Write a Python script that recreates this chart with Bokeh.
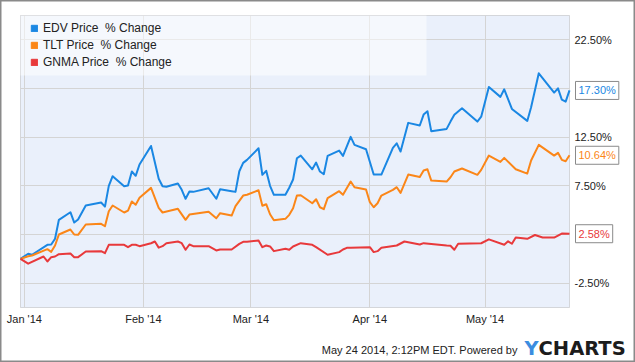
import math
import pandas as pd
from bokeh.plotting import figure
from bokeh.models import (ColumnDataSource, FixedTicker, PrintfTickFormatter, MonthsTicker,
                          DatetimeTickFormatter, Label, Legend, LegendItem, BoxAnnotation, Range1d)
from bokeh.embed import file_html
from bokeh.resources import INLINE

# ---------------- data ----------------
edv_dates = ["2013-12-31", "2014-01-02", "2014-01-03", "2014-01-07", "2014-01-08", "2014-01-09",
             "2014-01-10", "2014-01-13", "2014-01-14", "2014-01-15", "2014-01-17", "2014-01-21",
             "2014-01-22", "2014-01-23", "2014-01-24", "2014-01-27", "2014-01-28", "2014-01-29",
             "2014-01-30", "2014-01-31", "2014-02-03", "2014-02-05", "2014-02-06", "2014-02-07",
             "2014-02-10", "2014-02-11", "2014-02-12", "2014-02-13", "2014-02-14", "2014-02-18",
             "2014-02-20", "2014-02-21", "2014-02-24", "2014-02-25", "2014-02-26", "2014-02-27",
             "2014-02-28", "2014-03-03", "2014-03-04", "2014-03-05", "2014-03-06", "2014-03-07",
             "2014-03-10", "2014-03-11", "2014-03-12", "2014-03-13", "2014-03-14", "2014-03-17",
             "2014-03-18", "2014-03-19", "2014-03-20", "2014-03-21", "2014-03-24", "2014-03-25",
             "2014-03-27", "2014-03-28", "2014-03-31", "2014-04-02", "2014-04-04", "2014-04-07",
             "2014-04-08", "2014-04-09", "2014-04-11", "2014-04-14", "2014-04-15", "2014-04-16",
             "2014-04-17", "2014-04-21", "2014-04-22", "2014-04-23", "2014-04-25", "2014-04-29",
             "2014-04-30", "2014-05-02", "2014-05-05", "2014-05-06", "2014-05-08", "2014-05-12",
             "2014-05-13", "2014-05-15", "2014-05-19", "2014-05-20", "2014-05-21", "2014-05-22",
             "2014-05-23"]
edv_values = [0.00, 0.52, 0.42, 1.44, 1.47, 2.06, 4.01, 4.79, 3.73, 4.04,
              5.48, 5.79, 5.37, 7.50, 8.49, 7.46, 7.53, 8.97, 8.53, 9.69,
              11.60, 8.22, 7.46, 7.40, 7.74, 7.09, 6.17, 6.91, 6.88, 7.25,
              6.17, 7.15, 6.95, 6.88, 9.00, 9.86, 10.17,
              11.36, 8.63, 9.04, 7.50, 6.58, 6.58, 7.30, 8.15, 10.33, 10.61,
              9.20, 9.89, 8.97, 8.69, 10.58, 11.12, 10.58, 12.53, 11.71, 11.26,
              8.66, 8.66, 11.40, 11.87, 11.02, 13.97, 13.70, 14.82, 15.16, 13.10,
              13.35, 14.10, 14.80, 15.47, 14.10, 14.61,
              17.66, 16.64, 17.42, 15.40, 14.17, 15.57, 19.06, 17.08, 17.52, 16.36,
              16.15, 17.30]

tlt_dates = ["2013-12-31", "2014-01-02", "2014-01-03", "2014-01-07", "2014-01-08", "2014-01-09",
             "2014-01-10", "2014-01-13", "2014-01-14", "2014-01-15", "2014-01-17", "2014-01-21",
             "2014-01-22", "2014-01-23", "2014-01-24", "2014-01-27", "2014-01-28", "2014-01-29",
             "2014-01-30", "2014-01-31", "2014-02-03", "2014-02-05", "2014-02-06", "2014-02-10",
             "2014-02-12", "2014-02-13", "2014-02-18", "2014-02-20", "2014-02-21", "2014-02-24",
             "2014-02-25", "2014-02-27", "2014-02-28", "2014-03-03", "2014-03-04", "2014-03-05",
             "2014-03-06", "2014-03-07", "2014-03-10", "2014-03-11", "2014-03-12", "2014-03-13",
             "2014-03-14", "2014-03-17", "2014-03-18", "2014-03-19", "2014-03-20", "2014-03-21",
             "2014-03-24", "2014-03-25", "2014-03-27", "2014-03-28", "2014-03-31", "2014-04-01",
             "2014-04-02", "2014-04-03", "2014-04-04", "2014-04-07", "2014-04-08", "2014-04-09",
             "2014-04-11", "2014-04-14", "2014-04-15", "2014-04-16", "2014-04-17", "2014-04-21",
             "2014-04-22", "2014-04-23", "2014-04-25", "2014-04-29", "2014-04-30", "2014-05-02",
             "2014-05-05", "2014-05-06", "2014-05-09", "2014-05-12", "2014-05-13", "2014-05-15",
             "2014-05-19", "2014-05-20", "2014-05-21", "2014-05-22", "2014-05-23"]
tlt_values = [0.00, 0.27, 0.34, 0.99, 0.72, 1.37, 2.50, 3.01, 2.50, 2.47,
              3.53, 3.60, 3.35, 4.89, 5.48, 4.76, 4.96, 5.89, 5.55, 6.27,
              7.29, 5.24, 4.76, 5.14, 4.01, 4.55, 4.83, 4.17, 4.69, 4.45, 5.41, 6.50, 6.58,
              7.05, 5.45, 5.61, 4.58, 3.97, 4.11, 4.52, 5.20, 6.50, 6.53,
              5.71, 6.12, 5.30, 5.10, 6.23, 6.95, 6.58, 7.94, 7.36, 7.12,
              5.82, 5.30, 5.71, 6.50, 7.09, 7.36, 6.78, 8.66, 8.40, 9.07, 9.20, 8.04,
              7.94, 8.38, 8.97, 9.28, 8.63, 9.14,
              10.61, 9.96, 10.37, 9.20, 8.76, 10.10, 11.71, 10.61, 10.89, 10.17, 10.03, 10.64]

gnma_dates = ["2013-12-31", "2014-01-02", "2014-01-06", "2014-01-07", "2014-01-08", "2014-01-09",
              "2014-01-10", "2014-01-13", "2014-01-14", "2014-01-15", "2014-01-17", "2014-01-21",
              "2014-01-22", "2014-01-23", "2014-01-27", "2014-01-28", "2014-01-29", "2014-01-30",
              "2014-01-31", "2014-02-03", "2014-02-04", "2014-02-05", "2014-02-06", "2014-02-07",
              "2014-02-10", "2014-02-11", "2014-02-12", "2014-02-13", "2014-02-14", "2014-02-18",
              "2014-02-20", "2014-02-21", "2014-02-24", "2014-02-26", "2014-02-27", "2014-02-28",
              "2014-03-03", "2014-03-04", "2014-03-05", "2014-03-06", "2014-03-07", "2014-03-10",
              "2014-03-11", "2014-03-12", "2014-03-14", "2014-03-17", "2014-03-18", "2014-03-21",
              "2014-03-24", "2014-03-25", "2014-03-26", "2014-03-27", "2014-04-01", "2014-04-02",
              "2014-04-03", "2014-04-04", "2014-04-08", "2014-04-10", "2014-04-14", "2014-04-15",
              "2014-04-21", "2014-04-22", "2014-04-23", "2014-04-24", "2014-04-30", "2014-05-02",
              "2014-05-06", "2014-05-07", "2014-05-08", "2014-05-09", "2014-05-12", "2014-05-14",
              "2014-05-16", "2014-05-19", "2014-05-21", "2014-05-23"]
gnma_values = [0.00, -0.50, 0.24, -0.27, 0.17, 0.24, 0.48, 0.55, 0.17, 0.17,
               0.75, 0.79, 0.58, 1.44, 1.44, 1.20, 1.44, 1.44, 1.30,
               1.60, 1.78, 1.15, 1.30, 1.61, 1.78, 1.61, 0.93, 1.47, 1.30, 1.30,
               0.86, 0.96, 0.96, 1.54, 1.75, 1.75,
               1.88, 1.20, 1.37, 1.27, 0.79, 1.03, 0.93, 1.27, 1.61, 1.44, 1.20,
               0.42, 0.69, 0.96, 1.13, 1.13, 1.20, 0.69, 0.79, 1.13, 1.37, 1.78,
               1.47, 1.61, 1.37, 1.34, 0.93, 1.55, 1.60,
               2.00, 1.45, 1.80, 1.55, 2.20, 2.06, 2.45, 2.19, 2.19, 2.60, 2.58]

series_names = ["EDV Price  % Change", "TLT Price  % Change", "GNMA Price  % Change"]
series_colors = ["#1a87e3", "#fb8618", "#e8393b"]
y_ticks = [-2.5, 2.5, 7.5, 12.5, 17.5, 22.5]
y_hidden_ticks = [2.5, 17.5]
y_lo, y_hi = -5, 25
footer_text = "May 24 2014, 2:12PM EDT.  Powered by"

# ---------------- layout ----------------
FONT = "Liberation Sans"
W, H = 635, 362
PL, PR, PT, PB = 20, 66, 15, 55           # plot-area insets inside the canvas
all_series = [(edv_dates, edv_values), (tlt_dates, tlt_values), (gnma_dates, gnma_values)]

t0 = pd.Timestamp(edv_dates[0]).value / 1e6
t1 = pd.Timestamp(edv_dates[-1]).value / 1e6
xs = (W - PL - PR) / (t1 - t0)
ys = (H - PT - PB) / (y_hi - y_lo)

p = figure(width=W, height=H, x_axis_type="datetime", y_axis_location="right",
           output_backend="svg", toolbar_location=None,
           x_range=Range1d(t0 - PL / xs, t1 + PR / xs),
           y_range=Range1d(y_lo - PB / ys, y_hi + PT / ys),
           min_border=0)
p.background_fill_color = "white"
p.border_fill_color = "white"
p.outline_line_color = "#8a8a8a"
p.outline_line_width = 2

# plot area panel
p.add_layout(BoxAnnotation(left=t0, right=t1, bottom=y_lo, top=y_hi,
                           fill_color="#eaf0fb", fill_alpha=1.0,
                           line_color="#8a8a8a", line_width=1, level="image"))

p.xaxis.ticker = MonthsTicker(months=list(range(1, 13)))
p.xaxis.formatter = DatetimeTickFormatter(months="%b '%y", days="%b '%y")
p.xaxis.fixed_location = y_lo
p.xaxis.bounds = (t0, t1)
p.yaxis.ticker = FixedTicker(ticks=y_ticks)
p.yaxis.formatter = PrintfTickFormatter(format="%.2f%%")
p.yaxis.major_label_overrides = {t: "" for t in y_hidden_ticks}
p.yaxis.fixed_location = t1
p.yaxis.bounds = (y_lo, y_hi)

for ax in (p.xaxis, p.yaxis):
    ax.axis_line_color = None
    ax.major_tick_line_color = None
    ax.minor_tick_line_color = None
    ax.major_tick_out = 0
    ax.major_tick_in = 0
    ax.minor_tick_out = 0
    ax.major_label_text_font = FONT
    ax.major_label_text_font_size = "11px"
    ax.major_label_text_color = "#222222"
    ax.major_label_standoff = 5

p.grid.grid_line_color = "#d4d4d4"
p.grid.grid_line_width = 1
p.xgrid.bounds = (t0, t1)
p.xgrid.cross_bounds = (y_lo, y_hi)
p.ygrid.bounds = (y_lo, y_hi)
p.ygrid.cross_bounds = (t0, t1)

# series lines
legend_items = []
for (dates, vals), name, col in zip(all_series, series_names, series_colors):
    src = ColumnDataSource(dict(date=pd.to_datetime(dates), v=vals))
    p.line(x="date", y="v", source=src, line_width=2, line_color=col, line_join="round")
    sq = p.quad(left=[math.nan], right=[math.nan], top=[math.nan], bottom=[math.nan],
                fill_color=col, line_color=col)
    legend_items.append(LegendItem(label=name, renderers=[sq]))

# legend background band
p.add_layout(BoxAnnotation(left=PL, right=426, top=H - PT, bottom=H - 75,
                           left_units="screen", right_units="screen",
                           top_units="screen", bottom_units="screen",
                           fill_color="white", fill_alpha=0.5, line_color=None))

legend = Legend(items=legend_items, location=(PL + 10, 238 + PB), padding=0, margin=0,
                spacing=3, glyph_width=8, glyph_height=8, label_height=13, label_standoff=5,
                background_fill_alpha=0, border_line_alpha=0,
                label_text_font=FONT, label_text_font_size="12px", label_text_color="#222222")
p.add_layout(legend)

# end-value flags
for (dates, vals), col in zip(all_series, series_colors):
    p.add_layout(Label(x=pd.Timestamp(dates[-1]).value / 1e6, y=vals[-1], x_offset=6,
                       text=f"{vals[-1]:.2f}%", text_color=col, text_font=FONT,
                       text_font_size="11px", text_align="left", text_baseline="middle",
                       background_fill_color="white", border_line_color="#8a8a8a",
                       padding=3))

# footer
p.add_layout(Label(x=520, y=13, x_units="screen", y_units="screen", text=footer_text,
                   text_font=FONT, text_font_size="11px", text_color="#222222",
                   text_align="right", text_baseline="middle"))
p.add_layout(Label(x=524, y=14, x_units="screen", y_units="screen", text="Y",
                   text_font="DejaVu Sans", text_font_style="bold", text_font_size="19.5px",
                   text_color="#3b8de0", text_align="left", text_baseline="middle"))
p.add_layout(Label(x=538, y=14, x_units="screen", y_units="screen", text="CHARTS",
                   text_font="DejaVu Sans", text_font_style="bold", text_font_size="19.5px",
                   text_color="#1c1c1c", text_align="left", text_baseline="middle"))

open("out.html", "w").write(file_html(p, INLINE))
